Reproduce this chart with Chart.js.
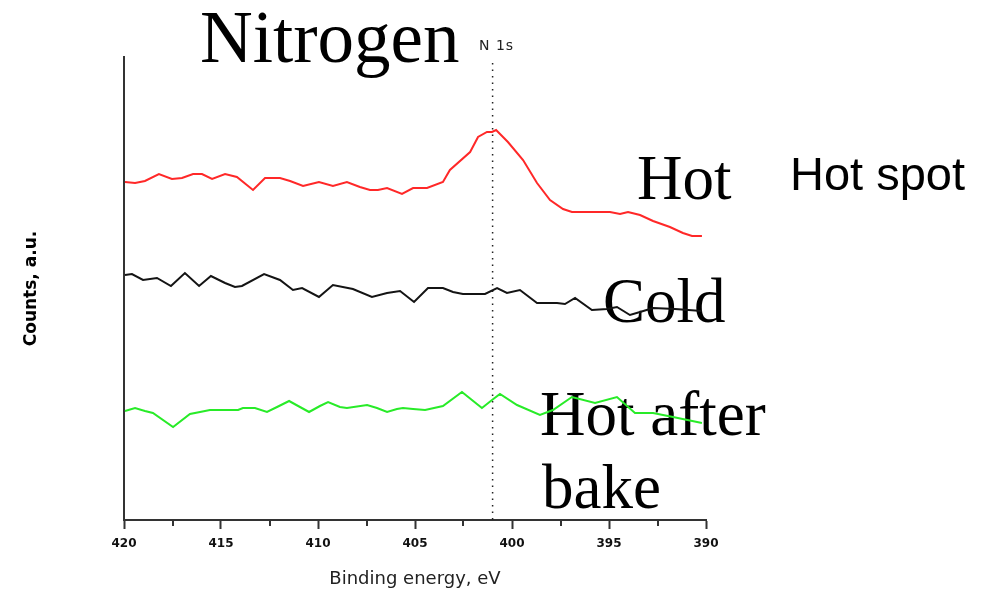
<!DOCTYPE html>
<html>
<head>
<meta charset="utf-8">
<script src="https://cdn.jsdelivr.net/npm/chart.js@4.4.1/dist/chart.umd.min.js"></script>
<style>
  html, body { margin: 0; padding: 0; background: #fff; }
  #wrap { width: 983px; height: 594px; position: relative; }
</style>
</head>
<body>
<div id="wrap"><canvas id="mycanvas"></canvas></div>
<script>
// N 1s spectra, binding energy (eV) against counts (a.u.)
var hotEnergy = [419.95, 419.43, 418.92, 418.20, 417.53, 417.01, 416.44, 415.98, 415.46, 414.79,
  414.18, 413.35, 412.73, 411.96, 411.44, 410.77, 409.95, 409.23, 408.51, 407.84,
  407.32, 406.91, 406.44, 405.67, 405.10, 404.38, 403.56, 403.20, 402.16, 401.75,
  401.29, 401.03, 400.82, 400.21, 399.43, 398.71, 398.04, 397.37, 396.91, 394.95,
  394.43, 394.02, 393.40, 392.73, 391.86, 391.19, 390.72, 390.21];
var hotCounts = [338, 337, 339, 346, 341, 342, 346, 346, 341, 346,
  343, 330, 342, 342, 339, 334, 338, 334, 338, 333,
  330, 330, 332, 326, 332, 332, 338, 350, 368, 383,
  388, 388, 390, 378, 360, 337, 320, 311, 308, 308,
  306, 308, 305, 299, 293, 287, 284, 284];

var coldEnergy = [419.95, 419.59, 419.02, 418.30, 417.58, 416.86, 416.13, 415.52, 414.79, 414.28,
  413.92, 412.78, 411.96, 411.29, 410.82, 409.95, 409.23, 408.20, 407.22, 406.44,
  405.77, 405.05, 404.33, 403.56, 403.04, 402.53, 401.39, 400.77, 400.26, 399.59,
  398.71, 397.68, 397.27, 396.75, 395.88, 395.10, 394.59, 393.92, 393.40, 392.73,
  391.60, 390.21];
var coldCounts = [245, 246, 240, 242, 234, 247, 234, 244, 237, 233,
  234, 246, 240, 230, 232, 223, 235, 231, 223, 227,
  229, 218, 232, 232, 228, 226, 226, 232, 227, 230,
  217, 217, 216, 222, 210, 211, 213, 205, 208, 212,
  211, 209];

var bakedEnergy = [419.95, 419.43, 418.92, 418.51, 417.47, 416.60, 416.08, 415.57, 414.12, 413.87,
  413.25, 412.63, 412.11, 411.49, 410.93, 410.46, 409.90, 409.48, 408.87, 408.51,
  407.47, 406.96, 406.44, 405.93, 405.62, 405.10, 404.48, 403.56, 402.58, 401.55,
  401.03, 400.62, 399.74, 398.56, 397.89, 396.91, 395.72, 394.59, 393.66, 392.73,
  391.70, 390.21];
var bakedCounts = [109, 112, 109, 107, 93, 106, 108, 110, 110, 112,
  112, 108, 113, 119, 113, 108, 114, 118, 113, 112,
  115, 112, 108, 111, 112, 111, 110, 114, 128, 112,
  120, 126, 115, 105, 110, 123, 117, 123, 107, 107,
  103, 97];

var majorTicks = [420, 415, 410, 405, 400, 395, 390];
var minorTicks = [417.5, 412.5, 407.5, 402.5, 397.5, 392.5];
var peakEnergy = 401.0;

function pairs(xs, ys) {
  var out = [];
  for (var i in xs) {
    out.push({ x: xs[i], y: ys[i] });
  }
  return out;
}

// free text, the N 1s marker line and short minor ticks
var decorations = {
  id: 'decorations',
  beforeDatasetsDraw: function(chart) {
    var c = chart.ctx;
    var xs = chart.scales.x;
    var area = chart.chartArea;
    c.save();

    c.strokeStyle = '#222';
    c.lineWidth = 1.5;
    c.setLineDash([1.5, 5]);
    c.beginPath();
    c.moveTo(xs.getPixelForValue(peakEnergy), area.top + 6);
    c.lineTo(xs.getPixelForValue(peakEnergy), area.bottom);
    c.stroke();
    c.setLineDash([]);

    c.fillStyle = '#000';
    c.textBaseline = 'alphabetic';
    c.font = '73px "Liberation Serif"';
    c.fillText('Nitrogen', 200, 62);
    c.font = '63px "Liberation Serif"';
    c.fillText('Hot', 637, 199);
    c.fillText('Cold', 603, 322);
    c.fillText('Hot after', 540, 435);
    c.fillText('bake', 542, 508);

    c.font = '14px "DejaVu Sans"';
    c.fillStyle = '#222';
    c.letterSpacing = '1px';
    c.fillText('N 1s', 479, 50);
    c.letterSpacing = '0px';

    c.font = '47px "Liberation Sans"';
    c.fillStyle = '#000';
    c.fillText('Hot spot', 790, 190);
    c.restore();
  },
  afterDraw: function(chart) {
    var c = chart.ctx;
    var xs = chart.scales.x;
    c.save();
    c.strokeStyle = '#333';
    c.lineWidth = 2;
    for (var i in minorTicks) {
      var px = Math.round(xs.getPixelForValue(minorTicks[i]));
      c.beginPath();
      c.moveTo(px, xs.top);
      c.lineTo(px, xs.top + 6);
      c.stroke();
    }
    c.restore();
  }
};

var chartdata = {
  datasets: [
    {
      label: 'Hot',
      data: pairs(hotEnergy, hotCounts),
      borderColor: 'rgba(255, 40, 40, 1)',
      borderWidth: 2
    },
    {
      label: 'Cold',
      data: pairs(coldEnergy, coldCounts),
      borderColor: 'rgba(20, 20, 20, 1)',
      borderWidth: 2
    },
    {
      label: 'Hot after bake',
      data: pairs(bakedEnergy, bakedCounts),
      borderColor: 'rgba(40, 235, 40, 1)',
      borderWidth: 2
    }
  ]
};

var ctx = document.getElementById('mycanvas');

var LineGraph = new Chart(ctx, {
  type: 'line',
  data: chartdata,
  options: {
    responsive: true,
    maintainAspectRatio: false,
    animation: false,
    layout: { padding: { left: 17, right: 277, top: 57, bottom: 0 } },
    elements: {
      line: { tension: 0, fill: false },
      point: { radius: 0 }
    },
    plugins: {
      legend: { display: false },
      tooltip: { enabled: false }
    },
    scales: {
      x: {
        type: 'linear',
        min: 390,
        max: 420,
        reverse: true,
        afterBuildTicks: function(scale) {
          scale.ticks = majorTicks.map(function(v) { return { value: v }; });
        },
        afterFit: function(scale) { scale.height = 74; },
        border: { display: true, color: '#333', width: 2 },
        grid: { drawOnChartArea: false, drawTicks: true, tickLength: 9, color: '#333', tickWidth: 2 },
        ticks: {
          color: '#111',
          padding: 8,
          maxRotation: 0,
          font: { family: 'DejaVu Sans', size: 12, weight: 'bold' }
        },
        title: {
          display: true,
          text: 'Binding energy, eV',
          color: '#222',
          padding: { top: 4, bottom: 4 },
          font: { family: 'DejaVu Sans', size: 18 }
        }
      },
      y: {
        min: 0,
        max: 463,
        afterFit: function(scale) { scale.width = 107; },
        border: { display: true, color: '#333', width: 2 },
        grid: { display: false },
        ticks: { display: false },
        title: {
          display: true,
          text: 'Counts, a.u.',
          color: '#000',
          padding: { top: 4, bottom: 4 },
          font: { family: 'DejaVu Sans', size: 17, weight: 'bold' }
        }
      }
    }
  },
  plugins: [decorations]
});
</script>
</body>
</html>
